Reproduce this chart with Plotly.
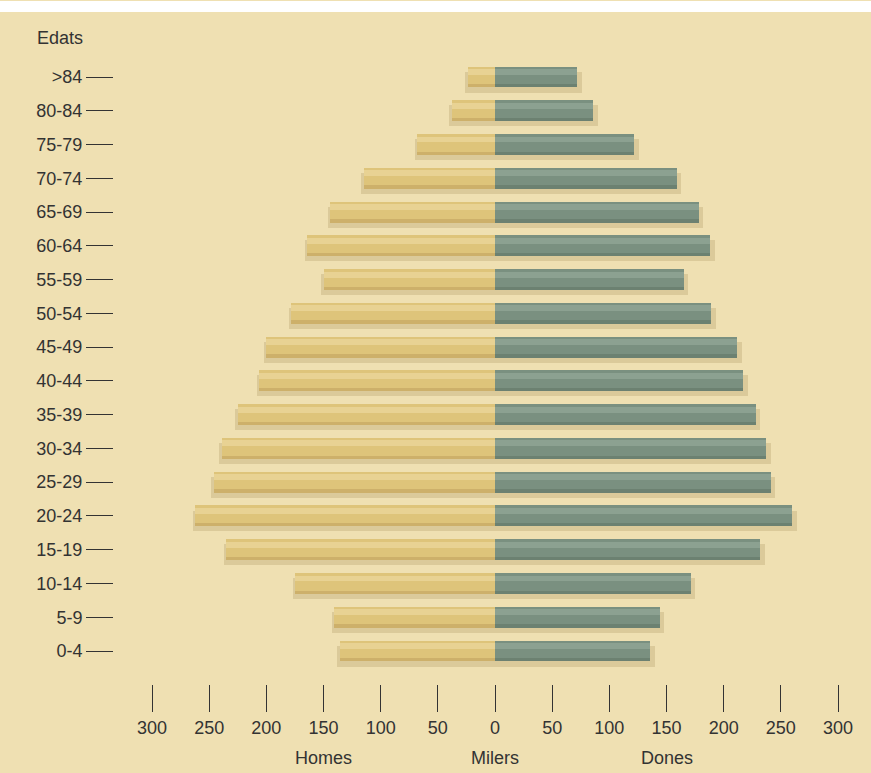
import plotly.graph_objects as go

ages = ["0-4", "5-9", "10-14", "15-19", "20-24", "25-29", "30-34", "35-39", "40-44",
        "45-49", "50-54", "55-59", "60-64", "65-69", "70-74", "75-79", "80-84", ">84"]
homes = [136, 141, 175, 235, 262, 246, 239, 225, 206, 200, 178, 150, 164, 144, 115, 68, 38, 24]
dones = [136, 144, 171, 232, 260, 241, 237, 228, 217, 212, 189, 165, 188, 178, 159, 122, 86, 72]
tick_vals = [-300, -250, -200, -150, -100, -50, 0, 50, 100, 150, 200, 250, 300]
tick_text = ["300", "250", "200", "150", "100", "50", "0", "50", "100", "150", "200", "250", "300"]

BG = "#EFE0B2"
MEN = "#DEC47A"
MEN_HI = "#E8D293"
MEN_LO = "#CDB06A"
WOMEN = "#7A9080"
WOMEN_HI = "#8CA191"
WOMEN_LO = "#6C8171"
SHADOW = "rgba(150,125,70,0.22)"
FONT = "Liberation Sans, Arial, sans-serif"
TXT = "#333333"
FS = 18

idx = list(range(len(ages)))
neg_homes = [-v for v in homes]

W = 0.62
fig = go.Figure()
# soft shadows
fig.add_trace(go.Bar(y=idx, x=[v - 2 for v in neg_homes], orientation="h", width=W,
                     offset=-W / 2 - 0.15, marker=dict(color=SHADOW, line=dict(width=0)),
                     hoverinfo="skip", showlegend=False))
fig.add_trace(go.Bar(y=idx, x=[v + 4 for v in dones], orientation="h", width=W,
                     offset=-W / 2 - 0.15, marker=dict(color=SHADOW, line=dict(width=0)),
                     hoverinfo="skip", showlegend=False))
# main bars
fig.add_trace(go.Bar(y=idx, x=neg_homes, orientation="h", width=W, offset=-W / 2,
                     marker=dict(color=MEN, line=dict(width=0)), name="Homes", showlegend=False))
fig.add_trace(go.Bar(y=idx, x=dones, orientation="h", width=W, offset=-W / 2,
                     marker=dict(color=WOMEN, line=dict(width=0)), name="Dones", showlegend=False))
# highlights (upper part) and darker lower edge
fig.add_trace(go.Bar(y=idx, x=neg_homes, orientation="h", width=W * 0.28, offset=W * 0.1,
                     marker=dict(color=MEN_HI, line=dict(width=0)), hoverinfo="skip", showlegend=False))
fig.add_trace(go.Bar(y=idx, x=dones, orientation="h", width=W * 0.28, offset=W * 0.1,
                     marker=dict(color=WOMEN_HI, line=dict(width=0)), hoverinfo="skip", showlegend=False))
fig.add_trace(go.Bar(y=idx, x=neg_homes, orientation="h", width=W * 0.16, offset=-W / 2,
                     marker=dict(color=MEN_LO, line=dict(width=0)), hoverinfo="skip", showlegend=False))
fig.add_trace(go.Bar(y=idx, x=dones, orientation="h", width=W * 0.16, offset=-W / 2,
                     marker=dict(color=WOMEN_LO, line=dict(width=0)), hoverinfo="skip", showlegend=False))

# plot area in pixels
L, R, T, B = 114, 860, 57, 684
Wd, Ht = 871, 773
px_per = 343 / 300.0
x0 = -(495 - L) / px_per
x1 = (R - 495) / px_per
y_bot = -(B - 651) / 33.76
y_top = 17 + (77 - T) / 33.76

fig.update_layout(
    width=Wd, height=Ht,
    margin=dict(l=L, r=Wd - R, t=T, b=Ht - B),
    paper_bgcolor=BG, plot_bgcolor=BG,
    barmode="overlay", bargap=0,
    font=dict(family=FONT, size=FS, color=TXT),
    xaxis=dict(range=[x0, x1], tickvals=tick_vals, ticktext=tick_text,
               ticks="outside", ticklen=27, tickcolor="#333333", tickwidth=1,
               showgrid=False, zeroline=False, showline=False,
               tickfont=dict(family=FONT, size=FS, color=TXT), fixedrange=True),
    yaxis=dict(range=[y_bot, y_top], tickvals=idx, ticktext=ages,
               ticks="outside", ticklen=27, tickcolor="#333333", tickwidth=1,
               showgrid=False, zeroline=False, showline=False,
               tickfont=dict(family=FONT, size=FS, color=TXT), fixedrange=True),
    showlegend=False,
)

pw = R - L
ph = B - T


def px(xp):
    return (xp - L) / pw


def py(yp):
    return (B - yp) / ph


fig.add_shape(type="rect", xref="paper", yref="paper",
              x0=px(0), x1=px(Wd), y0=py(12), y1=py(1),
              fillcolor="white", line=dict(width=0), layer="above")

fig.add_annotation(text="Edats", xref="paper", yref="paper", x=px(35), y=py(38),
                   xanchor="left", yanchor="middle", showarrow=False,
                   font=dict(family=FONT, size=FS, color=TXT))
for label, xv in [("Homes", -150), ("Milers", 0), ("Dones", 150)]:
    fig.add_annotation(text=label, xref="x", yref="paper", x=xv, y=py(758),
                       xanchor="center", yanchor="middle", showarrow=False,
                       font=dict(family=FONT, size=FS, color=TXT))

fig.write_html("out.html")
